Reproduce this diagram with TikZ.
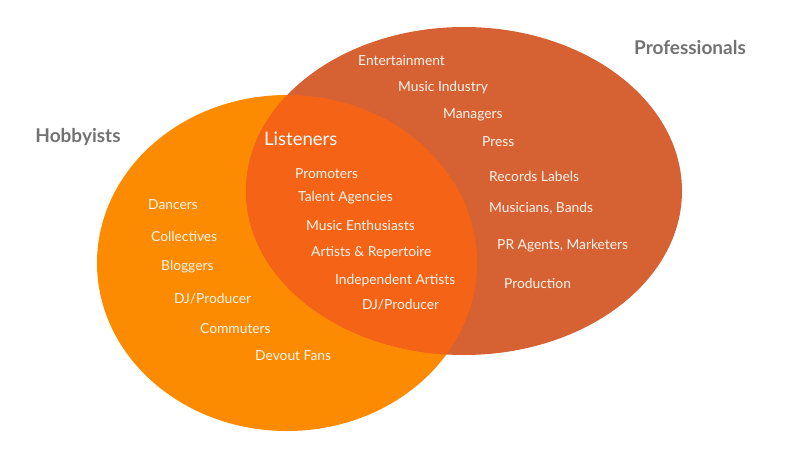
\documentclass[tikz,border=0pt]{standalone}
\usepackage{fontspec}
\setmainfont{Lato}
\usetikzlibrary{positioning}
\definecolor{hobbyorange}{HTML}{FD8B02}
\definecolor{prorust}{HTML}{D66233}
\definecolor{bothorange}{HTML}{F56416}
\definecolor{titlegray}{HTML}{727272}
\definecolor{itemwhite}{HTML}{FFF4EC}

\begin{document}
\begin{tikzpicture}[x=1pt, y=-1pt,
  grouptitle/.style={font=\fontsize{19}{21}\selectfont\bfseries\color{titlegray}},
  innertitle/.style={font=\fontsize{18.5}{21}\selectfont\color{white}, anchor=west, inner sep=0pt},
  item/.style={font=\fontsize{13.8}{16}\selectfont\color{itemwhite}, anchor=west, inner sep=0pt},
]
\useasboundingbox (0,0) rectangle (800,450);
% two circles of the venn, overlap painted on its own
\fill[hobbyorange] (287,263) ellipse [x radius=190, y radius=168];
\fill[prorust] (464,191) ellipse [x radius=218, y radius=164];
\begin{scope}
  \clip (287,263) ellipse [x radius=190, y radius=168];
  \fill[bothorange] (464,191) ellipse [x radius=218, y radius=164];
\end{scope}

\node[grouptitle] (hobbyists) at (78,137) {Hobbyists};
\node[grouptitle] (professionals) at (690,48) {Professionals};
\node[innertitle] (listeners) at (264,139) {Listeners};

% professionals only
\foreach \n/\x/\y/\t in {
  pa/358/61/Entertainment,
  pb/398/88/Music Industry,
  pc/443/115/Managers,
  pd/482/142/Press,
  pe/489/176/Records Labels,
  pf/489/208/{Musicians, Bands},
  pg/497/246/{PR Agents, Marketers},
  ph/504/283/Production
} {
  \node[item] (\n) at (\x,\y) {\t};
}
% listeners (both)
\foreach \n/\x/\y/\t in {
  la/295/174/Promoters,
  lb/298/198/Talent Agencies,
  lc/306/225/Music Enthusiasts,
  ld/311/253/Artists \& Repertoire,
  le/335/281/Independent Artists,
  lf/362/305/{DJ/Producer}
} {
  \node[item] (\n) at (\x,\y) {\t};
}
% hobbyists only
\foreach \n/\x/\y/\t in {
  ha/148/205/Dancers,
  hb/151/236/Collectives,
  hc/161/267/Bloggers,
  hd/174/299/{DJ/Producer},
  he/200/329/Commuters,
  hf/255/356/Devout Fans
} {
  \node[item] (\n) at (\x,\y) {\t};
}
\end{tikzpicture}
\end{document}
